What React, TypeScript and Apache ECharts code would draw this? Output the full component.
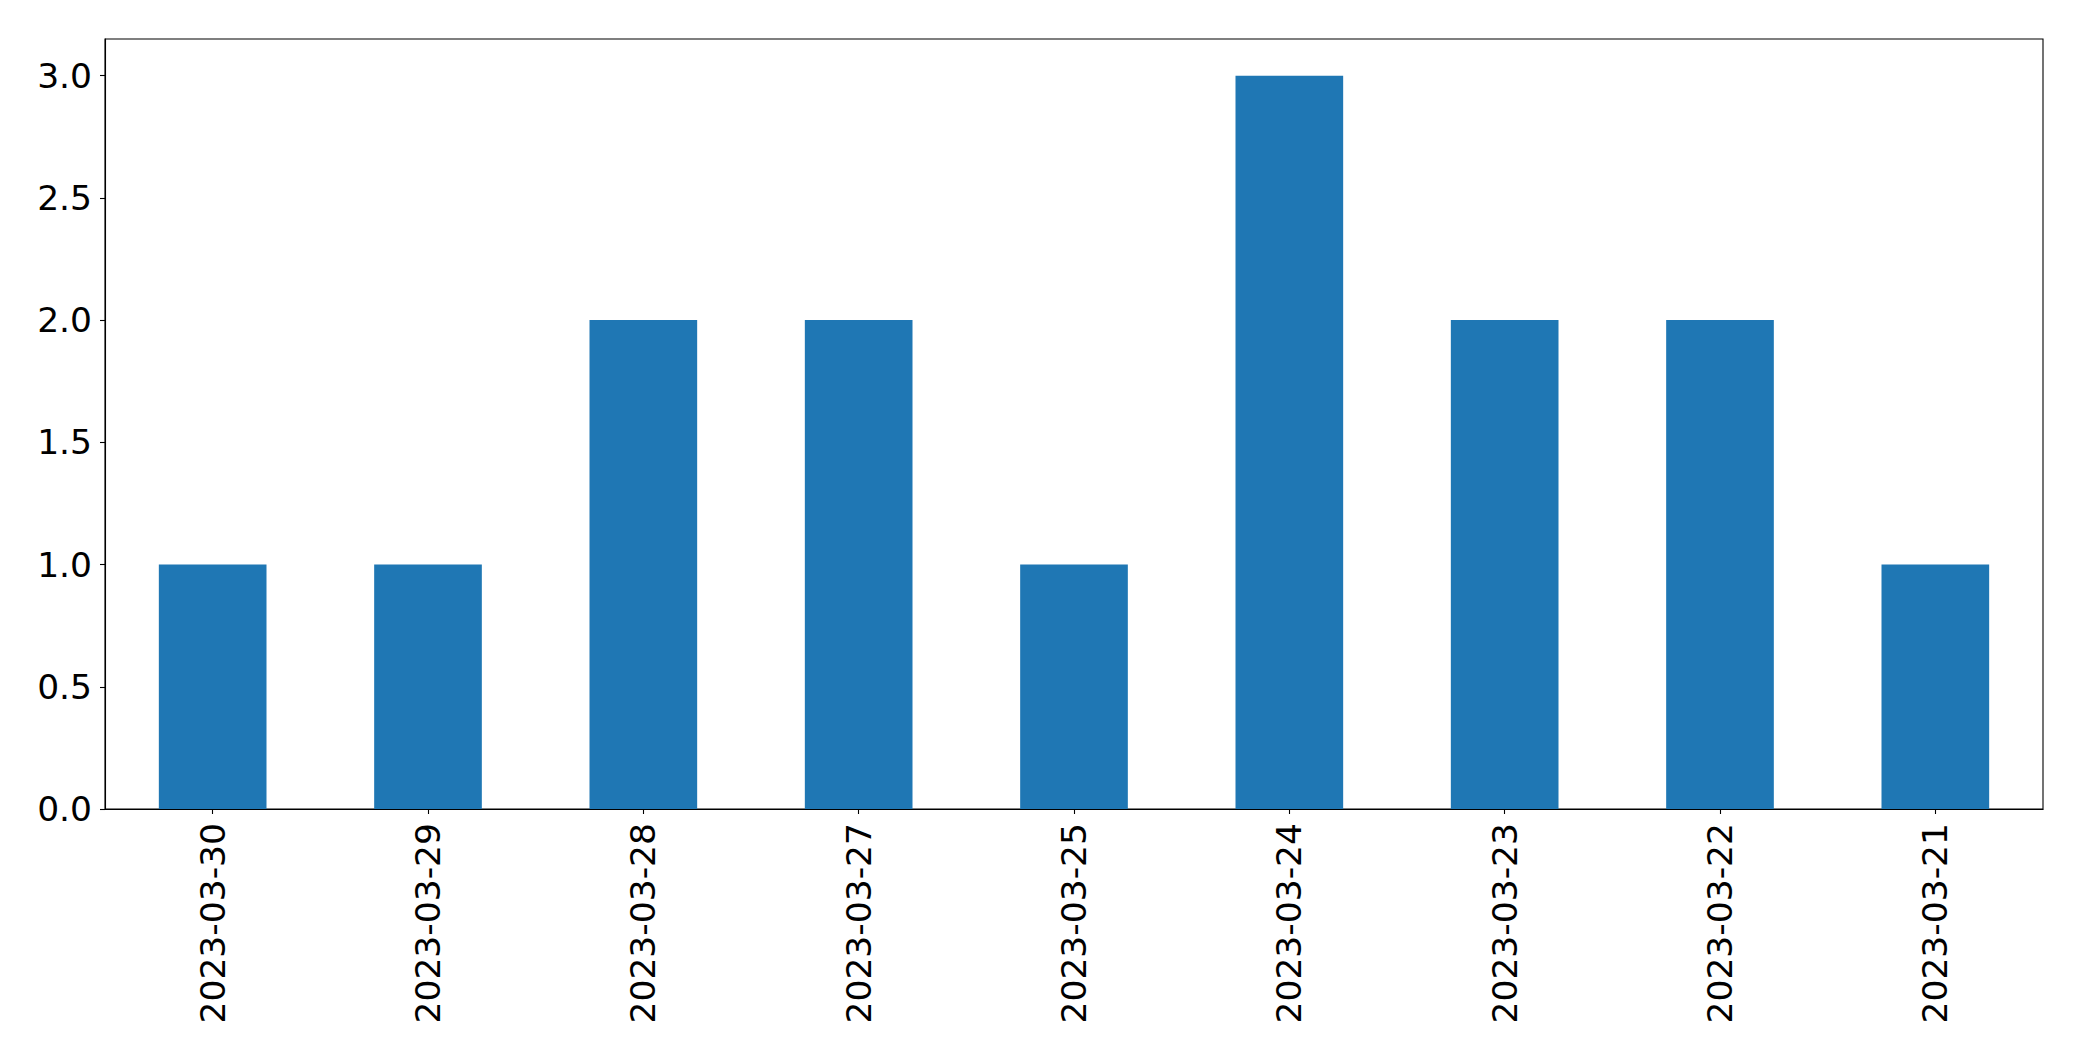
import React, { useEffect, useRef } from "react";
import * as echarts from "echarts";

const categories = [
  "2023-03-30",
  "2023-03-29",
  "2023-03-28",
  "2023-03-27",
  "2023-03-25",
  "2023-03-24",
  "2023-03-23",
  "2023-03-22",
  "2023-03-21",
];
const counts = [1, 1, 2, 2, 1, 3, 2, 2, 1];
const yTicks = [0, 0.5, 1.0, 1.5, 2.0, 2.5, 3.0];

export default function App() {
  const ref = useRef<HTMLDivElement>(null);
  useEffect(() => {
    if (!ref.current) return;
    const chart = echarts.init(ref.current, undefined, { renderer: "svg" });
    const font = "DejaVu Sans";
    chart.setOption({
      animation: false,
      backgroundColor: "#ffffff",
      grid: {
        left: 105,
        top: 39,
        right: 39,
        bottom: 252,
        show: true,
        borderColor: "#000000",
        borderWidth: 1.1,
        containLabel: false,
      },
      xAxis: {
        type: "category",
        data: categories,
        boundaryGap: true,
        axisLine: { show: true, lineStyle: { color: "#000000", width: 1.1 } },
        axisTick: {
          show: true,
          alignWithLabel: true,
          length: 5,
          lineStyle: { color: "#000000", width: 1.1 },
        },
        axisLabel: {
          rotate: 90,
          margin: 14,
          color: "#000000",
          fontSize: 34.5,
          fontFamily: font,
          interval: 0,
        },
        splitLine: { show: false },
      },
      yAxis: {
        type: "value",
        min: 0,
        max: 3.15,
        axisLine: { show: true, lineStyle: { color: "#000000", width: 1.1 } },
        axisTick: {
          show: true,
          length: 5,
          customValues: yTicks,
          lineStyle: { color: "#000000", width: 1.1 },
        },
        axisLabel: {
          customValues: yTicks,
          margin: 13,
          color: "#000000",
          fontSize: 34.5,
          fontFamily: font,
          formatter: (v: number) => v.toFixed(1),
        },
        splitLine: { show: false },
      },
      series: [
        {
          type: "bar",
          data: counts,
          barWidth: "50%",
          itemStyle: { color: "#1f77b4" },
        },
      ],
    });
    return () => chart.dispose();
  }, []);
  return (
    <div
      ref={ref}
      style={{ position: "fixed", left: 0, top: 0, width: 2082, height: 1061 }}
    />
  );
}
